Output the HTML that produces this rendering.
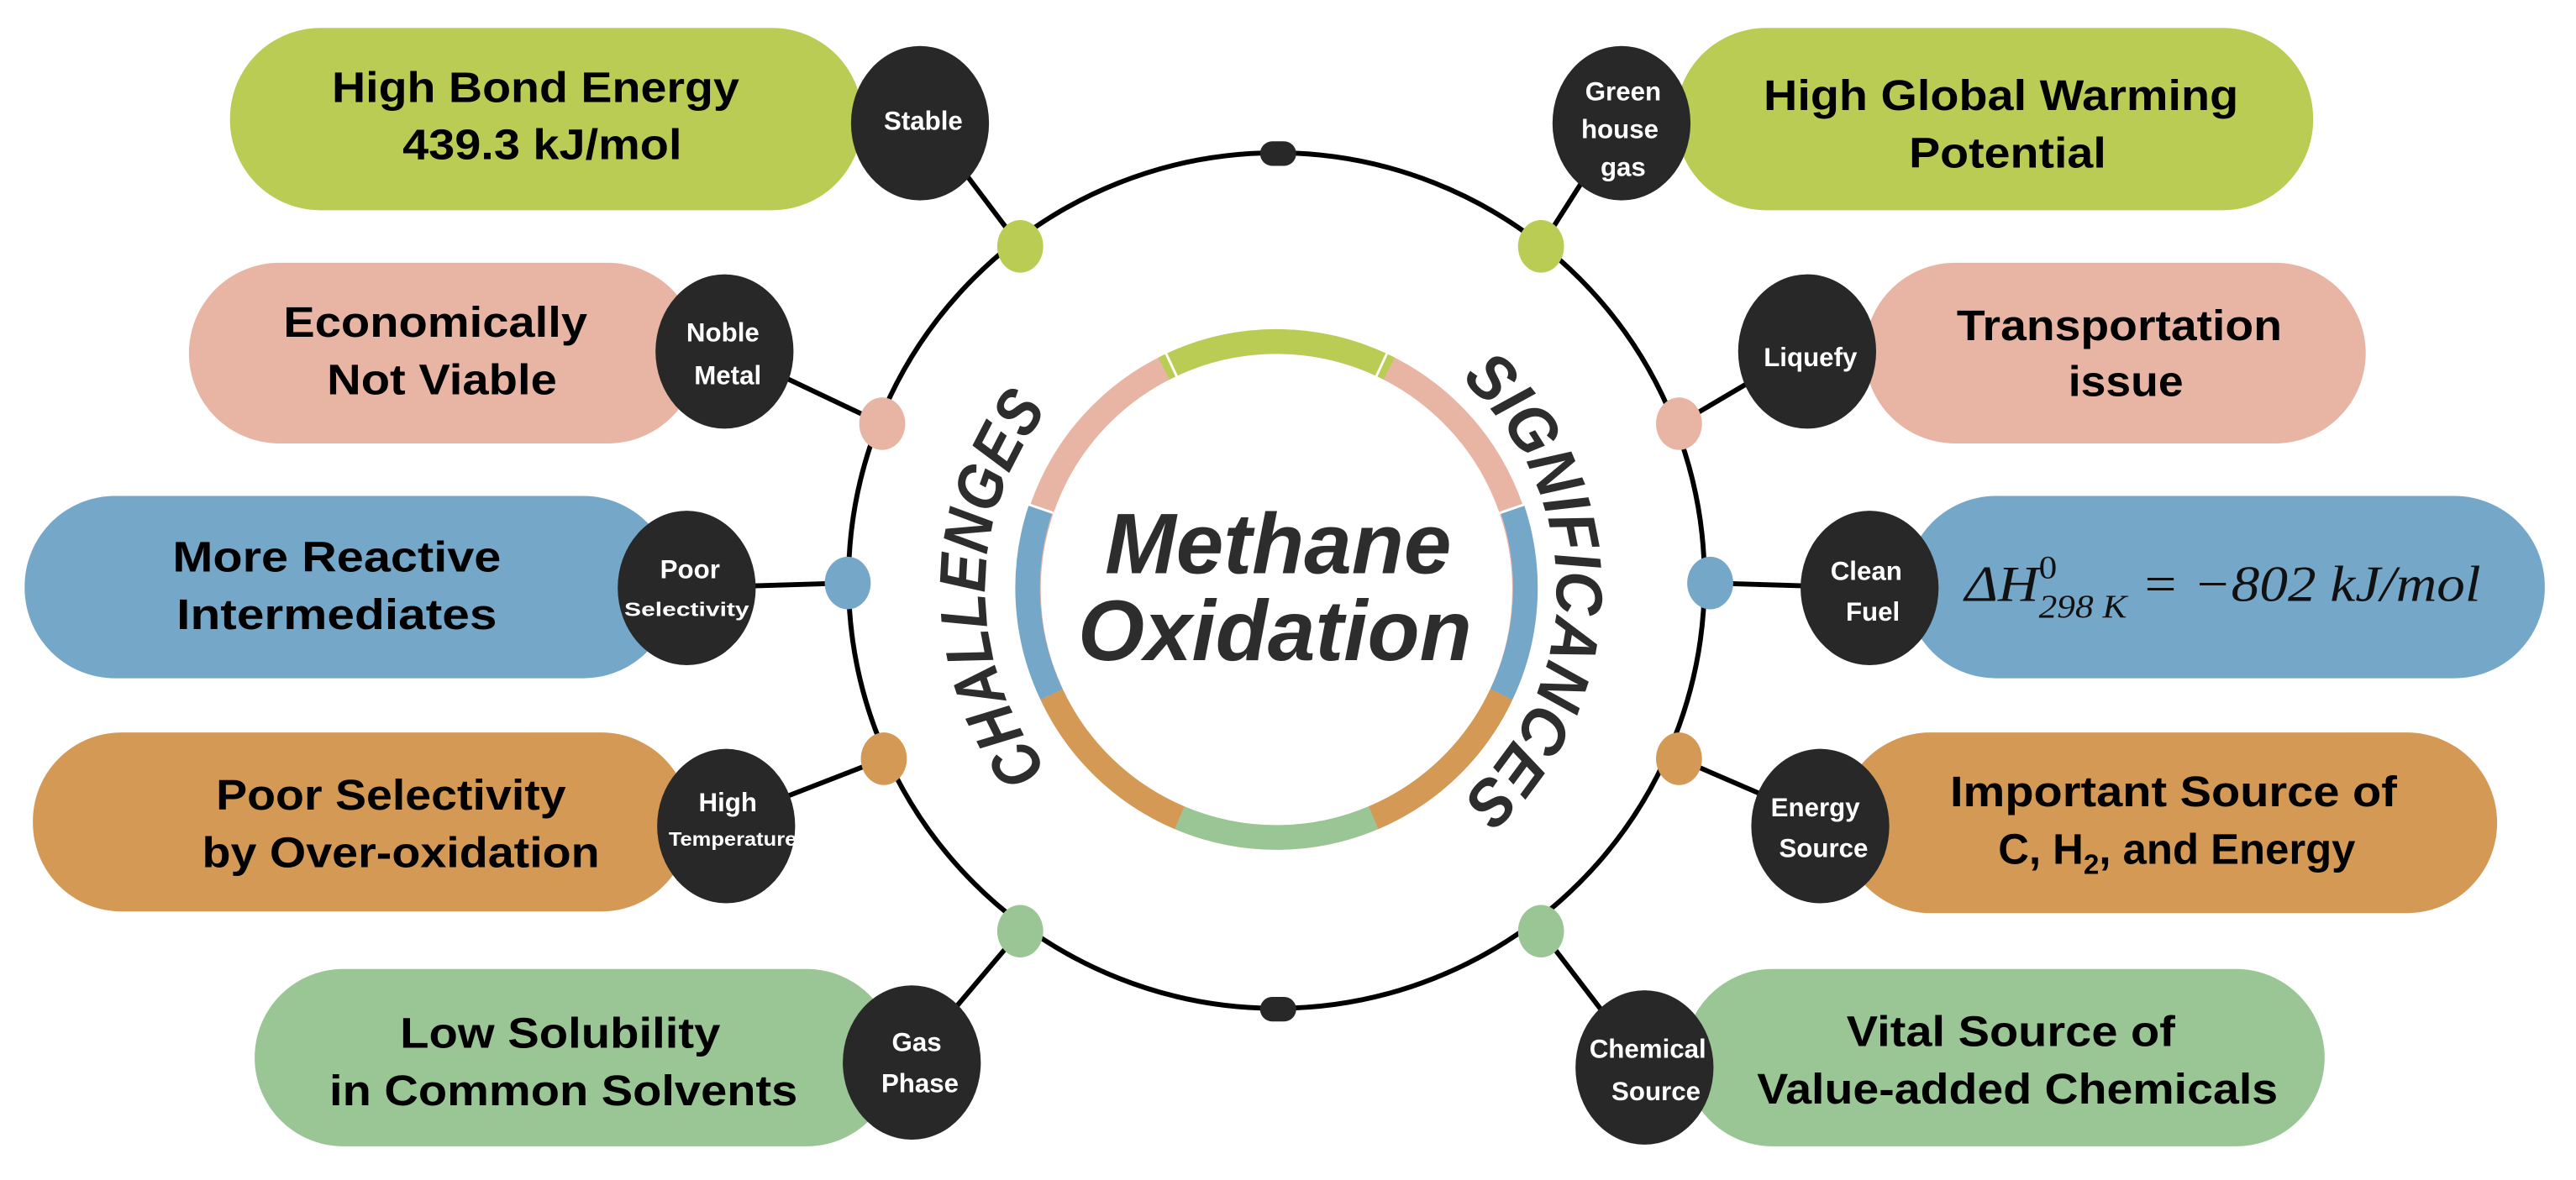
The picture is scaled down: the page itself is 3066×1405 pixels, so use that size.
<!DOCTYPE html>
<html><head><meta charset="utf-8"><style>
html,body{margin:0;padding:0;background:#fff;}
svg{display:block;}
.pt{font-family:"Liberation Sans Narrow","Liberation Sans",sans-serif;font-weight:bold;font-size:26px;fill:#000;text-anchor:middle;}
.ct{font-family:"Liberation Sans Narrow","Liberation Sans",sans-serif;font-weight:bold;font-size:16px;fill:#fff;text-anchor:middle;}
</style></head><body>
<svg width="3066" height="1405" viewBox="0 0 1568 718.5" xmlns="http://www.w3.org/2000/svg">
<defs>
<path id="lp" d="M 641.2 472.5 A 176 176 0 0 1 641.2 245.5"/>
<path id="rp" d="M 884 226.5 A 170 170 0 0 1 884 491.5"/>
</defs>
<circle cx="777" cy="353.5" r="260.5" fill="none" stroke="#000" stroke-width="3"/>
<g stroke="#000" stroke-width="3">
<line x1="621" y1="150" x2="563" y2="73"/>
<line x1="537" y1="258" x2="440" y2="212"/>
<line x1="516" y1="355" x2="418" y2="358"/>
<line x1="538" y1="462" x2="440" y2="500"/>
<line x1="621" y1="567" x2="555" y2="645"/>
<line x1="938" y1="150" x2="987" y2="73"/>
<line x1="1022" y1="258" x2="1100" y2="212"/>
<line x1="1041" y1="355" x2="1140" y2="358"/>
<line x1="1022" y1="462" x2="1110" y2="500"/>
<line x1="938" y1="567" x2="1000" y2="648"/>
</g>
<g fill="none" stroke-width="15">
<circle cx="777" cy="359" r="151" stroke="#e8b5a5"/>
</g>
<g fill="none" stroke-width="15">
<path stroke="#bbcc55" d="M 708.4 224.4 A 151 151 0 0 1 845.6 224.4"/>
<path stroke="#75a7c9" d="M 920.6 309.8 A 151 151 0 0 1 913.9 422.8"/>
<path stroke="#d49a55" d="M 913.9 422.8 A 151 151 0 0 1 836 497.9"/>
<path stroke="#9ac695" d="M 836 497.9 A 151 151 0 0 1 718 497.9"/>
<path stroke="#d49a55" d="M 718 497.9 A 151 151 0 0 1 640.1 422.8"/>
<path stroke="#75a7c9" d="M 640.1 422.8 A 151 151 0 0 1 633.4 309.8"/>
</g>
<g stroke="#fff" stroke-width="1.5">
<line x1="777" y1="359" x2="705" y2="205"/>
<line x1="777" y1="359" x2="849" y2="205"/>
<line x1="777" y1="359" x2="940" y2="303"/>
<line x1="777" y1="359" x2="614" y2="303"/>
</g>
<circle cx="777" cy="359" r="140" fill="#fff"/>
<rect x="140" y="17" width="385" height="111" rx="55" fill="#bbcc55"/>
<rect x="115" y="160" width="310" height="110" rx="55" fill="#e8b5a5"/>
<rect x="15" y="302" width="395" height="111" rx="55" fill="#75a7c9"/>
<rect x="20" y="446" width="400" height="109" rx="54" fill="#d49a55"/>
<rect x="155" y="590" width="390" height="108" rx="54" fill="#9ac695"/>
<rect x="1020" y="17" width="388" height="111" rx="55" fill="#bbcc55"/>
<rect x="1135" y="160" width="305" height="110" rx="55" fill="#e8b5a5"/>
<rect x="1160" y="302" width="389" height="111" rx="55" fill="#75a7c9"/>
<rect x="1120" y="446" width="400" height="110" rx="55" fill="#d49a55"/>
<rect x="1025" y="590" width="390" height="108" rx="54" fill="#9ac695"/>
<rect x="767" y="86" width="22" height="15" rx="7.5" fill="#282828"/>
<rect x="767" y="607" width="22" height="15" rx="7.5" fill="#282828"/>
<g>
<ellipse cx="621" cy="150" rx="14" ry="16" fill="#bbcc55"/>
<ellipse cx="537" cy="258" rx="14" ry="16" fill="#e8b5a5"/>
<ellipse cx="516" cy="355" rx="14" ry="16" fill="#75a7c9"/>
<ellipse cx="538" cy="462" rx="14" ry="16" fill="#d49a55"/>
<ellipse cx="621" cy="567" rx="14" ry="16" fill="#9ac695"/>
<ellipse cx="938" cy="150" rx="14" ry="16" fill="#bbcc55"/>
<ellipse cx="1022" cy="258" rx="14" ry="16" fill="#e8b5a5"/>
<ellipse cx="1041" cy="355" rx="14" ry="16" fill="#75a7c9"/>
<ellipse cx="1022" cy="462" rx="14" ry="16" fill="#d49a55"/>
<ellipse cx="938" cy="567" rx="14" ry="16" fill="#9ac695"/>
</g>
<g fill="#282828">
<ellipse cx="560" cy="75" rx="42" ry="47"/>
<ellipse cx="441" cy="214" rx="42" ry="47"/>
<ellipse cx="418" cy="358" rx="42" ry="47"/>
<ellipse cx="442" cy="503" rx="42" ry="47"/>
<ellipse cx="555" cy="647" rx="42" ry="47"/>
<ellipse cx="987" cy="75" rx="42" ry="47"/>
<ellipse cx="1100" cy="214" rx="42" ry="47"/>
<ellipse cx="1138" cy="358" rx="42" ry="47"/>
<ellipse cx="1108" cy="503" rx="42" ry="47"/>
<ellipse cx="1001" cy="650" rx="42" ry="47"/>
</g>
<text class="ct" x="562" y="79">Stable</text>
<text class="ct" x="440" y="208">Noble</text><text class="ct" x="443" y="234">Metal</text>
<text class="ct" x="420" y="352">Poor</text><text class="ct" x="418" y="375" style="font-size:12px" textLength="76" lengthAdjust="spacingAndGlyphs">Selectivity</text>
<text class="ct" x="443" y="494">High</text><text class="ct" x="446" y="515" style="font-size:12px" textLength="78" lengthAdjust="spacingAndGlyphs">Temperature</text>
<text class="ct" x="558" y="640">Gas</text><text class="ct" x="560" y="665">Phase</text>
<text class="ct" x="988" y="61">Green</text><text class="ct" x="986" y="84">house</text><text class="ct" x="988" y="107">gas</text>
<text class="ct" x="1102" y="223">Liquefy</text>
<text class="ct" x="1136" y="353">Clean</text><text class="ct" x="1140" y="378">Fuel</text>
<text class="ct" x="1105" y="497">Energy</text><text class="ct" x="1110" y="522">Source</text>
<text class="ct" x="1003" y="644">Chemical</text><text class="ct" x="1008" y="670">Source</text>
<text class="pt" x="326" y="62" textLength="248" lengthAdjust="spacingAndGlyphs">High Bond Energy</text>
<text class="pt" x="330" y="97" textLength="170" lengthAdjust="spacingAndGlyphs">439.3 kJ/mol</text>
<text class="pt" x="265" y="205" textLength="185" lengthAdjust="spacingAndGlyphs">Economically</text>
<text class="pt" x="269" y="240" textLength="140" lengthAdjust="spacingAndGlyphs">Not Viable</text>
<text class="pt" x="205" y="348" textLength="200" lengthAdjust="spacingAndGlyphs">More Reactive</text>
<text class="pt" x="205" y="383" textLength="195" lengthAdjust="spacingAndGlyphs">Intermediates</text>
<text class="pt" x="238" y="493" textLength="213" lengthAdjust="spacingAndGlyphs">Poor Selectivity</text>
<text class="pt" x="244" y="528" textLength="242" lengthAdjust="spacingAndGlyphs">by Over-oxidation</text>
<text class="pt" x="341" y="638" textLength="195" lengthAdjust="spacingAndGlyphs">Low Solubility</text>
<text class="pt" x="343" y="673" textLength="285" lengthAdjust="spacingAndGlyphs">in Common Solvents</text>
<text class="pt" x="1218" y="67" textLength="289" lengthAdjust="spacingAndGlyphs">High Global Warming</text>
<text class="pt" x="1222" y="102" textLength="120" lengthAdjust="spacingAndGlyphs">Potential</text>
<text class="pt" x="1290" y="207" textLength="198" lengthAdjust="spacingAndGlyphs">Transportation</text>
<text class="pt" x="1294" y="241" textLength="70" lengthAdjust="spacingAndGlyphs">issue</text>
<text class="pt" x="1323" y="491" textLength="272" lengthAdjust="spacingAndGlyphs">Important Source of</text>
<text class="pt" x="1325" y="526">C, H<tspan font-size="17" dy="6">2</tspan><tspan dy="-6">, and Energy</tspan></text>
<text class="pt" x="1224" y="637" textLength="200" lengthAdjust="spacingAndGlyphs">Vital Source of</text>
<text class="pt" x="1228" y="672" textLength="317" lengthAdjust="spacingAndGlyphs">Value-added Chemicals</text>
<text x="1196" y="366" font-family="Liberation Serif, serif" font-style="italic" font-size="31" fill="#111" textLength="314" lengthAdjust="spacingAndGlyphs">ΔH<tspan font-size="20" dy="-14" font-style="normal">0</tspan><tspan font-size="20" dx="-10" dy="24">298 K</tspan><tspan dy="-10"> = −802 kJ/mol</tspan></text>
<text x="778" y="349" text-anchor="middle" font-family="Liberation Sans, sans-serif" font-style="italic" font-weight="bold" font-size="52" fill="#2d2d2d">Methane</text>
<text x="776" y="402" text-anchor="middle" font-family="Liberation Sans, sans-serif" font-style="italic" font-weight="bold" font-size="52" fill="#2d2d2d">Oxidation</text>
<text font-family="Liberation Sans, sans-serif" font-style="italic" font-weight="bold" font-size="40" fill="#2d2d2d"><textPath href="#lp" startOffset="50%" text-anchor="middle" textLength="236" lengthAdjust="spacingAndGlyphs">CHALLENGES</textPath></text>
<text font-family="Liberation Sans, sans-serif" font-style="italic" font-weight="bold" font-size="40" fill="#2d2d2d"><textPath href="#rp" startOffset="50%" text-anchor="middle" textLength="290" lengthAdjust="spacingAndGlyphs">SIGNIFICANCES</textPath></text>
</svg>
</body></html>
